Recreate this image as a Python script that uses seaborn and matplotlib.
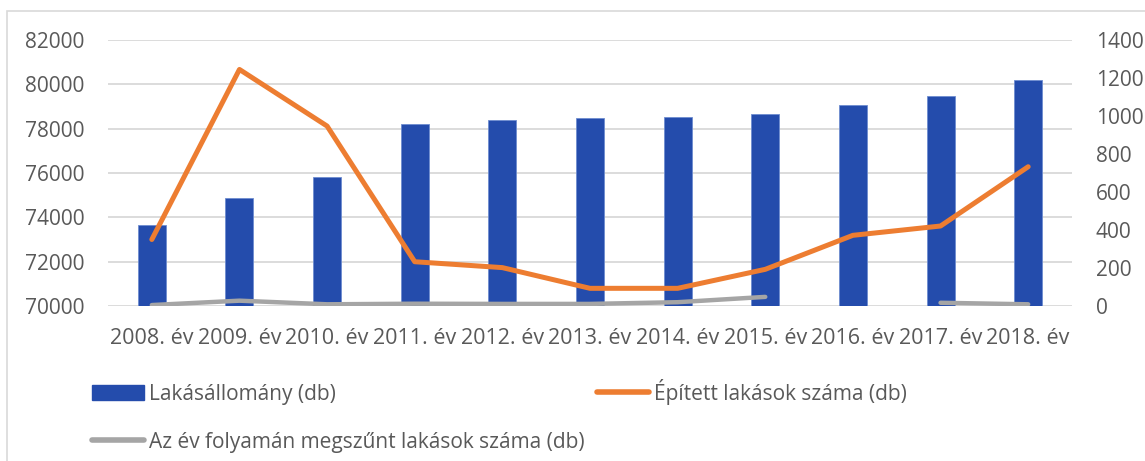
import numpy as np
import pandas as pd
import seaborn as sns
import matplotlib.pyplot as plt
from matplotlib.patches import Patch, Rectangle
from matplotlib.lines import Line2D

# adatok
evek = ['2008. év', '2009. év', '2010. év', '2011. év', '2012. év', '2013. év',
        '2014. év', '2015. év', '2016. év', '2017. év', '2018. év']
lakasallomany = [73650, 74890, 75820, 78200, 78380, 78470, 78540, 78680, 79050, 79460, 80200]
epitett = [350, 1245, 947, 233, 202, 93, 93, 193, 372, 421, 733]
megszunt = [5, 28, 9, 12, 11, 11, 20, 48, np.nan, 17, 9]

KEK = '#244CAC'
NARANCS = '#ED7D31'
SZURKE = '#A5A5A5'
SZOVEG = '#595959'

sns.set_theme(style='white')
plt.rcParams['font.family'] = ['Open Sans', 'DejaVu Sans']

df = pd.DataFrame({'ev': evek, 'idx': np.arange(len(evek)),
                   'allomany': lakasallomany, 'epitett': epitett, 'megszunt': megszunt})
# szürke vonal megszakad a hiányzó évnél
df['szakasz'] = df['megszunt'].isna().cumsum()

fig = plt.figure(figsize=(11.45, 4.61), dpi=100)
ax = fig.add_axes([108 / 1145, 1 - 306 / 461, (1072 - 108) / 1145, (306 - 40) / 461])

sns.barplot(data=df, x='ev', y='allomany', color=KEK, width=0.32, saturation=1,
            edgecolor='#6E8CD0', linewidth=0.6, ax=ax)
ax.set_ylim(70000, 82000)
ax.set_yticks(range(70000, 82001, 2000))
ax.set_xlim(-0.5, len(evek) - 0.5)
ax.grid(axis='y', color='#D9D9D9', linewidth=1.3)
ax.set_axisbelow(True)

ax2 = ax.twinx()
sns.lineplot(data=df, x='idx', y='epitett', color=NARANCS, linewidth=3.6,
             solid_capstyle='round', solid_joinstyle='round', ax=ax2)
sns.lineplot(data=df.dropna(), x='idx', y='megszunt', units='szakasz', estimator=None,
             color=SZURKE, linewidth=3.2, solid_capstyle='round', ax=ax2)
ax2.set_ylim(0, 1400)
ax2.set_yticks(range(0, 1401, 200))
ax2.set_xlim(-0.5, len(evek) - 0.5)

for a in (ax, ax2):
    a.set_xlabel('')
    a.set_ylabel('')
    for s in a.spines.values():
        s.set_visible(False)
    a.tick_params(length=0, labelsize=15, labelcolor=SZOVEG)
ax.tick_params(axis='y', pad=17)
ax2.tick_params(axis='y', pad=17)
ax.tick_params(axis='x', pad=16, labelsize=15.5)

handles = [Patch(facecolor=KEK, edgecolor=KEK),
           Line2D([], [], color=SZURKE, linewidth=4, solid_capstyle='round'),
           Line2D([], [], color=NARANCS, linewidth=4, solid_capstyle='round')]
labels = ['Lakásállomány (db)', 'Az év folyamán megszűnt lakások száma (db)',
          'Épített lakások száma (db)']
fig.legend(handles, labels, ncol=2, loc='upper left', bbox_to_anchor=(75 / 1145, 1 - 362 / 461),
           frameon=False, fontsize=15, labelcolor=SZOVEG, handlelength=2.5,
           handletextpad=0.25, labelspacing=1.3, columnspacing=0.6, borderpad=0.3)

fig.patches.append(Rectangle((7 / 1145, -0.1), 1.2, 1 - 11 / 461 + 0.1, transform=fig.transFigure,
                             fill=False, edgecolor='#D9D9D9', linewidth=1.2))

fig.savefig('out.png', dpi=100)
